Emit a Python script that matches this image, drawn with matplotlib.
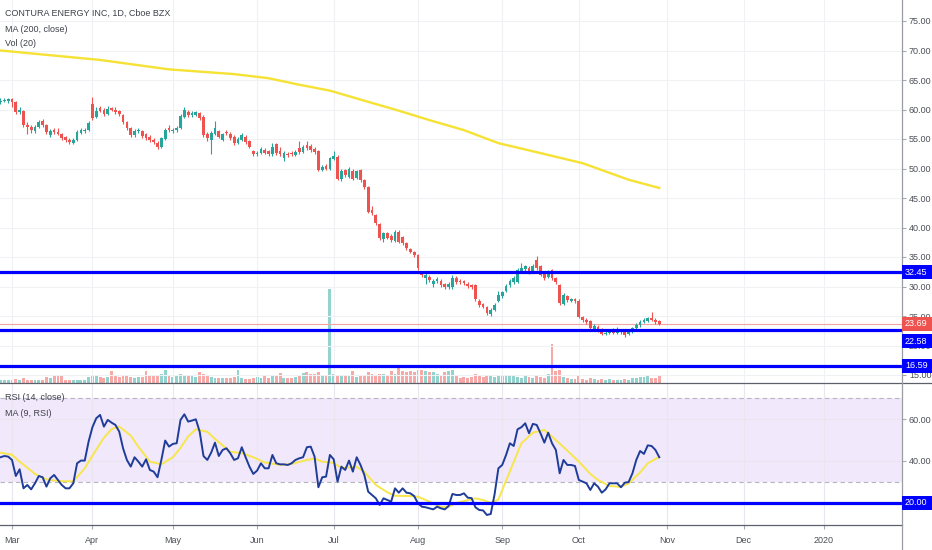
import numpy as np
import pandas as pd
import matplotlib
matplotlib.use("Agg")
import matplotlib.pyplot as plt
from matplotlib.patches import Rectangle
from matplotlib.lines import Line2D
from matplotlib import font_manager

# ---------------- data ----------------
title_text = "CONTURA ENERGY INC, 1D, Cboe BZX"
ma_label = "MA (200, close)"
vol_label = "Vol (20)"
rsi_label = "RSI (14, close)"
rsi_ma_label = "MA (9, RSI)"

first_day = "2019-02-26"
holidays = ["2019-04-19", "2019-05-27", "2019-07-04", "2019-09-02",
            "2019-11-28", "2019-12-25", "2020-01-01"]

opens = [61.3, 61.5, 61.4, 61.7, 61.2, 59.5, 59.8, 57.4, 57.1, 56.4,
         57.0, 58.0, 57.3, 55.7, 56.6, 56.2, 55.9, 55.3, 54.9, 54.4,
         54.9, 56.1, 56.3, 56.5, 61.0, 58.8, 60.3, 59.9, 59.3, 60.2,
         60.0, 59.7, 59.1, 57.9, 56.9, 55.6, 56.3, 56.4, 55.8, 55.3,
         54.9, 54.4, 53.6, 55.0, 56.9, 56.3, 56.5, 56.9, 58.7, 59.6,
         59.0, 59.1, 59.4, 58.8, 55.9, 54.8, 55.9, 56.3, 54.9, 56.2,
         55.9, 55.4, 54.3, 54.8, 55.3, 54.7, 53.0, 52.4, 52.6, 53.1,
         52.9, 52.4, 54.1, 53.0, 51.8, 52.5, 52.6, 52.3, 53.5, 52.8,
         54.0, 53.8, 53.3, 52.9, 49.8, 50.4, 50.0, 51.6, 52.0, 48.2,
         49.7, 48.6, 49.6, 48.4, 49.7, 48.1, 46.9, 42.9, 42.1, 40.6,
         38.0, 39.0, 38.6, 37.7, 39.3, 38.4, 37.4, 36.3, 35.9, 35.3,
         32.5, 31.4, 31.6, 30.5, 31.0, 31.0, 30.4, 29.9, 30.0, 31.5,
         30.9, 30.9, 30.5, 30.3, 30.2, 27.6, 27.0, 26.5, 25.3, 26.1,
         27.5, 28.4, 29.2, 30.2, 30.8, 30.8, 32.5, 33.0, 33.2, 32.7,
         34.5, 33.4, 32.2, 31.6, 32.8, 31.4, 30.3, 27.0, 28.4, 27.6,
         27.8, 27.6, 24.8, 24.4, 24.2, 22.8, 23.2, 22.7, 22.0, 22.1,
         22.4, 22.2, 22.3, 22.5, 21.9, 22.4, 22.9, 23.4, 24.0, 24.1,
         24.6, 24.4, 24.1]
highs = [61.9, 61.9, 62.0, 61.9, 61.5, 60.4, 60.0, 57.8, 57.4, 57.3,
         58.3, 58.4, 57.5, 56.7, 56.9, 56.8, 56.1, 55.5, 55.1, 55.2,
         56.5, 56.8, 56.9, 58.0, 62.2, 60.5, 60.6, 60.2, 60.6, 60.5,
         60.5, 60.0, 59.3, 58.1, 57.1, 56.7, 56.9, 56.6, 56.1, 55.6,
         55.2, 54.6, 55.4, 56.9, 57.3, 56.9, 57.2, 59.2, 60.5, 59.9,
         59.7, 59.8, 59.6, 59.0, 56.2, 56.3, 58.0, 56.6, 56.1, 56.5,
         56.2, 55.6, 55.3, 56.0, 55.6, 54.9, 53.2, 53.0, 53.6, 53.4,
         53.2, 54.4, 54.3, 53.6, 52.9, 52.8, 52.9, 53.1, 54.7, 54.0,
         54.7, 54.1, 53.6, 53.1, 50.6, 50.7, 52.0, 52.9, 52.3, 49.9,
         50.0, 50.2, 49.9, 49.8, 49.9, 48.3, 47.1, 43.6, 42.3, 40.8,
         39.3, 39.3, 38.9, 39.6, 39.5, 38.6, 37.6, 36.5, 36.1, 35.5,
         32.7, 32.4, 31.9, 31.2, 31.6, 31.3, 30.6, 30.7, 32.0, 31.8,
         31.2, 31.1, 30.8, 30.5, 30.4, 27.8, 27.2, 26.7, 26.3, 27.2,
         29.3, 29.3, 30.4, 31.3, 31.8, 33.1, 34.0, 33.7, 33.5, 33.8,
         35.2, 33.6, 32.5, 32.8, 33.0, 31.6, 30.5, 28.9, 28.6, 28.1,
         28.0, 27.8, 25.0, 24.6, 24.4, 23.6, 23.4, 22.9, 22.5, 22.7,
         22.9, 23.2, 22.8, 22.7, 22.6, 23.1, 23.8, 24.3, 24.6, 24.9,
         25.6, 24.6, 24.3]
lows = [61.0, 61.2, 61.1, 60.4, 59.3, 59.2, 57.0, 55.9, 56.1, 56.0,
        56.8, 57.1, 55.9, 55.3, 55.9, 55.6, 54.9, 54.5, 54.2, 54.1,
        54.7, 55.9, 56.1, 56.3, 58.3, 58.5, 59.5, 58.9, 59.1, 59.7,
        59.3, 58.9, 57.6, 56.5, 55.4, 55.3, 56.0, 55.2, 54.9, 54.5,
        54.2, 53.3, 53.4, 54.8, 56.2, 56.0, 56.2, 56.7, 58.5, 58.8,
        58.8, 58.9, 58.3, 55.4, 54.6, 52.4, 55.7, 55.1, 54.6, 55.7,
        54.9, 54.0, 54.1, 54.6, 54.2, 53.4, 52.2, 52.2, 52.4, 52.4,
        52.2, 52.2, 52.3, 52.2, 51.3, 52.0, 52.1, 52.1, 52.5, 52.6,
        53.2, 52.8, 52.5, 49.5, 49.5, 49.7, 49.8, 51.4, 48.0, 47.8,
        48.6, 48.4, 48.0, 48.2, 47.7, 46.6, 42.4, 42.1, 40.4, 37.9,
        37.5, 38.0, 37.6, 37.5, 37.3, 37.0, 36.2, 35.6, 35.0, 32.8,
        31.6, 30.4, 30.8, 30.0, 30.6, 30.0, 29.6, 29.6, 29.5, 30.5,
        30.4, 30.3, 29.8, 29.6, 27.6, 26.6, 26.3, 25.2, 25.0, 25.9,
        27.3, 28.1, 29.0, 29.9, 30.5, 30.6, 32.3, 32.7, 32.2, 32.5,
        32.8, 31.7, 31.1, 31.4, 31.1, 30.5, 26.9, 26.8, 27.4, 27.4,
        27.2, 24.6, 24.0, 23.7, 22.6, 22.5, 22.3, 21.7, 21.8, 21.9,
        21.9, 21.9, 22.0, 21.5, 21.7, 22.2, 22.7, 23.2, 23.8, 23.9,
        24.1, 23.7, 23.5]
closes = [61.5, 61.6, 61.7, 61.3, 59.6, 59.9, 57.3, 57.1, 56.5, 57.0,
          57.9, 57.4, 56.2, 56.4, 56.2, 55.9, 55.2, 54.8, 54.5, 54.9,
          56.2, 56.5, 56.6, 57.7, 58.6, 59.7, 59.8, 59.2, 60.1, 60.0,
          59.6, 59.2, 57.9, 56.8, 55.7, 56.4, 56.6, 55.5, 55.2, 54.8,
          54.5, 53.7, 55.1, 56.6, 56.5, 56.6, 56.9, 58.9, 59.9, 59.1,
          59.4, 59.5, 58.6, 55.7, 55.2, 56.0, 56.8, 55.4, 55.8, 56.0,
          55.2, 54.3, 55.0, 55.7, 54.5, 53.7, 52.5, 52.7, 53.3, 52.7,
          52.5, 53.7, 52.6, 52.5, 52.6, 52.3, 52.4, 52.8, 52.8, 53.7,
          53.5, 53.1, 52.8, 49.8, 50.3, 50.0, 51.7, 52.2, 48.3, 49.6,
          48.9, 49.9, 48.3, 49.5, 48.0, 46.9, 42.7, 42.4, 40.7, 38.2,
          39.0, 38.3, 37.9, 39.3, 37.6, 37.3, 36.5, 35.9, 35.3, 33.1,
          32.0, 32.0, 31.1, 30.9, 31.3, 30.3, 29.9, 30.4, 31.4, 30.8,
          30.7, 30.6, 30.1, 29.9, 27.9, 26.9, 26.6, 25.5, 26.0, 26.9,
          28.6, 29.0, 30.1, 31.0, 31.4, 32.8, 33.1, 33.4, 32.5, 33.4,
          33.1, 32.0, 31.4, 32.5, 31.4, 30.8, 27.2, 28.6, 27.7, 27.8,
          27.5, 24.9, 24.3, 24.0, 22.9, 23.3, 22.6, 22.0, 22.2, 22.4,
          22.2, 22.4, 22.5, 21.8, 22.4, 22.9, 23.5, 24.0, 24.3, 24.6,
          24.3, 24.0, 23.69]
volumes_k = [90, 110, 80, 100, 140, 90, 160, 100, 90, 80,
             110, 100, 200, 180, 230, 260, 220, 90, 80, 100,
             90, 110, 100, 200, 260, 220, 200, 180, 210, 420,
             230, 200, 220, 240, 200, 180, 190, 210, 420, 250,
             230, 260, 300, 430, 220, 200, 260, 300, 280, 260,
             240, 200, 380, 300, 220, 200, 180, 160, 170, 150,
             160, 190, 430, 150, 120, 140, 160, 200, 180, 220,
             160, 260, 240, 350, 180, 150, 170, 200, 220, 340,
             380, 300, 320, 360, 250, 260, 3290, 300, 260, 240,
             280, 220, 420, 200, 240, 260, 380, 300, 280, 320,
             300, 260, 400, 300, 520, 420, 380, 400, 360, 440,
             460, 400, 380, 360, 300, 280, 360, 420, 440, 220,
             180, 200, 160, 190, 300, 240, 200, 280, 220, 200,
             260, 240, 280, 250, 230, 200, 180, 220, 190, 170,
             240, 200, 180, 300, 1365, 420, 450, 200, 150, 120,
             140, 220, 130, 110, 150, 120, 110, 130, 100, 120,
             90, 110, 100, 130, 110, 150, 170, 200, 190, 230,
             160, 180, 250]
rsi = [41.8, 42.4, 42.1, 40.5, 32.8, 36.0, 26.9, 28.5, 26.4, 29.3,
       32.8, 32.2, 27.7, 31.7, 33.3, 30.9, 28.5, 26.9, 26.9, 29.3,
       38.9, 40.2, 40.2, 49.3, 56.2, 60.5, 62.1, 56.5, 59.7, 58.4,
       57.3, 54.1, 46.1, 40.5, 37.3, 41.8, 39.7, 37.3, 40.8, 35.7,
       34.9, 32.2, 40.5, 49.8, 46.9, 48.2, 48.5, 59.7, 62.4, 58.9,
       59.4, 60.0, 54.1, 42.4, 40.5, 44.0, 48.8, 42.4, 45.3, 46.1,
       43.7, 40.5, 41.3, 46.6, 41.8, 37.3, 33.8, 35.4, 38.9, 36.5,
       36.5, 42.9, 38.9, 38.4, 38.4, 38.1, 38.9, 40.5, 41.3, 41.8,
       46.6, 46.9, 42.1, 27.4, 32.2, 32.5, 42.9, 40.8, 30.1, 37.3,
       35.7, 40.2, 34.9, 41.8, 38.1, 33.3, 25.3, 23.7, 22.1, 18.9,
       22.1, 21.3, 20.5, 26.9, 24.8, 26.9, 24.8, 24.5, 23.2, 19.7,
       18.1, 17.8, 17.3, 16.8, 18.1, 17.3, 16.8, 18.4, 24.2, 23.7,
       23.7, 24.5, 22.4, 22.2, 17.8, 16.5, 16.3, 14.1, 14.6, 24.0,
       36.5, 38.1, 42.9, 48.5, 47.2, 55.2, 56.2, 58.1, 53.3, 57.8,
       57.3, 53.3, 48.8, 53.6, 48.5, 45.3, 34.1, 40.5, 38.1, 38.1,
       37.6, 30.9, 30.1, 29.3, 26.1, 29.3, 27.7, 24.8, 26.4, 29.3,
       29.3, 29.3, 27.4, 29.6, 29.9, 34.1, 40.5, 44.8, 43.4, 47.5,
       47.2, 45.3, 41.8]
# yellow MA(9) of RSI, read at these bar numbers
rsi_ma_bar = [0, 3, 5, 9, 12, 15, 19, 22, 24, 27, 29, 31, 34, 36, 39, 42, 45, 47,
              49, 51, 54, 56, 60, 63, 66, 69, 73, 76, 80, 82, 84, 87, 89, 93, 95,
              98, 101, 103, 107, 109, 112, 115, 117, 119, 121, 124, 126, 128, 130,
              131, 134, 136, 139, 142, 144, 148, 151, 154, 156, 159, 162, 164, 167,
              169, 172]
rsi_ma_val = [44.0, 43.0, 39.7, 33.8, 31.2, 30.4, 30.2, 36.5, 42.5, 51.2, 55.3,
              56.5, 52.2, 46.8, 39.7, 38.4, 41.8, 46.3, 51.8, 55.2, 54.0, 50.6,
              44.4, 43.8, 41.8, 39.3, 38.1, 38.6, 40.5, 41.2, 39.7, 39.1, 36.6,
              37.2, 34.8, 28.5, 25.0, 23.3, 23.2, 22.9, 20.5, 17.9, 18.1, 19.8,
              20.8, 22.1, 21.3, 19.9, 21.5, 26.1, 39.5, 48.5, 53.6, 54.9, 51.7,
              45.0, 39.7, 33.8, 30.9, 28.0, 27.6, 29.3, 34.5, 38.9, 42.0]
# MA(200) of close, read at these bar numbers
ma200_bar = [0, 13, 26, 44, 61, 70, 78, 86, 96, 104, 112, 121, 130, 143, 152, 164, 172]
ma200_val = [70.0, 69.2, 68.4, 66.8, 66.0, 65.3, 64.2, 63.2, 61.3, 59.8, 58.2,
             56.5, 54.3, 52.3, 50.9, 48.1, 46.7]

levels = [32.45, 22.58, 16.59]
last_price = 23.69
rsi_level = 20.00
price_ticks = [15, 20, 25, 30, 35, 40, 45, 50, 55, 60, 65, 70, 75]
rsi_ticks = [40, 60]
rsi_band = (30, 70)

# ---------------- style ----------------
names = {f.name for f in font_manager.fontManager.ttflist}
if "Liberation Sans Narrow" in names:
    FAM = ["Liberation Sans Narrow", "DejaVu Sans"]
    FS = 7.5
else:
    FAM = ["Liberation Sans", "DejaVu Sans"]
    FS = 6.5
plt.rcParams["font.family"] = FAM

UP, DN = "#26a69a", "#ef5350"
VUP, VDN = "#93d3cd", "#f7a9a8"
BLUE = "#0000ff"
TXT = "#4c4f57"
GRID = "#eff1f5"

W, H = 932, 550
fig = plt.figure(figsize=(W / 100, H / 100), dpi=100)
fig.patch.set_facecolor("white")

def fx(x):
    return x / W

def fy(y):
    return 1 - y / H

AX_R = 902
P_BOT = 382.7
R_BOT = 525

ax = fig.add_axes([0, fy(P_BOT), fx(AX_R), P_BOT / H])
axr = fig.add_axes([0, fy(R_BOT), fx(AX_R), (R_BOT - P_BOT) / H], sharex=ax)
axv = ax.twinx()
ax.set_zorder(axv.get_zorder() + 1)
ax.patch.set_visible(False)

# trading-day calendar
hol = pd.to_datetime(holidays)
days = pd.bdate_range(first_day, "2020-01-31")
days = days[~days.isin(hol)]
n = len(closes)
bars = np.arange(n)

o = np.array(opens); c = np.array(closes)
h = np.array(highs); l = np.array(lows)
up = c >= o
cols = np.where(up, UP, DN)
vcols = np.where(up, VUP, VDN)

# month ticks
mt_pos, mt_lab = [], []
prev = None
for i, d in enumerate(days):
    key = (d.year, d.month)
    if key != prev:
        prev = key
        if i == 0:
            continue
        mt_pos.append(i)
        mt_lab.append(str(d.year) if d.month == 1 else d.strftime("%b"))

xlim = (-0.5 / 3.83, (AX_R - 0.5) / 3.83)

# ---- price pane ----
axv.bar(bars, volumes_k, width=0.75, color=vcols, linewidth=0)
axv.set_ylim(0, 3290 * P_BOT / 94)
axv.set_yticks([])
for s in axv.spines.values():
    s.set_visible(False)

ax.vlines(bars, l, h, colors=cols, linewidth=0.8, zorder=3)
ax.bar(bars, np.maximum(np.abs(c - o), 0.15), bottom=np.minimum(o, c),
       width=0.72, color=cols, linewidth=0, zorder=3)
ax.plot(ma200_bar, ma200_val, color="#f5e234", lw=1.7, zorder=4)
ax.axhline(last_price, color="#f5a3a2", lw=0.8, zorder=2)
for lv in levels:
    ax.axhline(lv, color=BLUE, lw=2.3, zorder=5)

ax.set_xlim(*xlim)
ax.set_ylim(75 - (P_BOT - 21) / 5.9, 75 + 21 / 5.9)
ax.set_yticks(price_ticks)
ax.set_yticklabels([f"{t:.2f}" for t in price_ticks])
ax.yaxis.tick_right()
ax.tick_params(axis="y", length=3, color="#a6a9b0", labelsize=FS,
               labelcolor=TXT, pad=2)
ax.set_xticks(mt_pos)
ax.tick_params(axis="x", length=0, labelbottom=False)
ax.grid(True, color=GRID, lw=0.8)
ax.set_axisbelow(True)
for s in ax.spines.values():
    s.set_visible(False)

# ---- RSI pane ----
axr.axhspan(*rsi_band, color="#f1e8fb", lw=0, zorder=0)
for b in rsi_band:
    axr.axhline(b, color="#b5b5c0", lw=0.8, ls=(0, (4, 3)), zorder=1)
axr.plot(bars, rsi, color="#1f3d98", lw=1.4, zorder=4)
axr.plot(rsi_ma_bar, rsi_ma_val, color="#f7e64c", lw=1.4, zorder=3)
axr.axhline(rsi_level, color=BLUE, lw=2.3, zorder=5)
axr.set_ylim(20 - (R_BOT - 502.7) / 2.085, 60 + (419.3 - P_BOT) / 2.085)
axr.set_xlim(*xlim)
axr.set_yticks(rsi_ticks)
axr.set_yticklabels([f"{t:.2f}" for t in rsi_ticks])
axr.yaxis.tick_right()
axr.tick_params(axis="y", length=3, color="#a6a9b0", labelsize=FS,
                labelcolor=TXT, pad=2)
axr.set_xticks(mt_pos)
axr.set_xticklabels(mt_lab)
axr.tick_params(axis="x", length=3, color="#a6a9b0", labelsize=FS,
                labelcolor=TXT, pad=5)
axr.grid(True, color="#e9e6f0", lw=0.8)
axr.set_axisbelow(True)
for s in axr.spines.values():
    s.set_visible(False)

# ---- frame lines ----
fig.add_artist(Line2D([0, 1], [fy(P_BOT)] * 2, transform=fig.transFigure,
                      color="#5d606b", lw=0.9))
fig.add_artist(Line2D([0, fx(AX_R)], [fy(R_BOT)] * 2, transform=fig.transFigure,
                      color="#5d606b", lw=0.9))
fig.add_artist(Line2D([fx(AX_R)] * 2, [0, 1], transform=fig.transFigure,
                      color="#9a9ca3", lw=0.9))

# ---- legends ----
for txt, y in [(title_text, 13), (ma_label, 29), (vol_label, 44),
               (rsi_label, 398), (rsi_ma_label, 413)]:
    fig.text(fx(5), fy(y), txt, fontsize=FS, color="#3f424a", va="center", ha="left")

# ---- price tags on the axis ----
inv = fig.transFigure.inverted()

def tag(axis, value, text, color, shift_px=0.0):
    _, ypix = axis.transData.transform((0, value))
    ypix -= shift_px
    hgt = 14
    x0, y0 = inv.transform((AX_R, ypix - hgt / 2))
    x1, y1 = inv.transform((W, ypix + hgt / 2))
    fig.add_artist(Rectangle((x0, y0), x1 - x0, y1 - y0, transform=fig.transFigure,
                             facecolor=color, edgecolor="none", zorder=5))
    fig.text(x0 + fx(3), (y0 + y1) / 2, text, color="white", fontsize=FS,
             va="center", ha="left", zorder=6)

tag(ax, levels[0], f"{levels[0]:.2f}", BLUE)
tag(ax, last_price, f"{last_price:.2f}", DN)
tag(ax, levels[1], f"{levels[1]:.2f}", BLUE, shift_px=11)
tag(ax, levels[2], f"{levels[2]:.2f}", BLUE)
tag(axr, rsi_level, f"{rsi_level:.2f}", BLUE)

fig.savefig("out.png", dpi=100, facecolor="white")
